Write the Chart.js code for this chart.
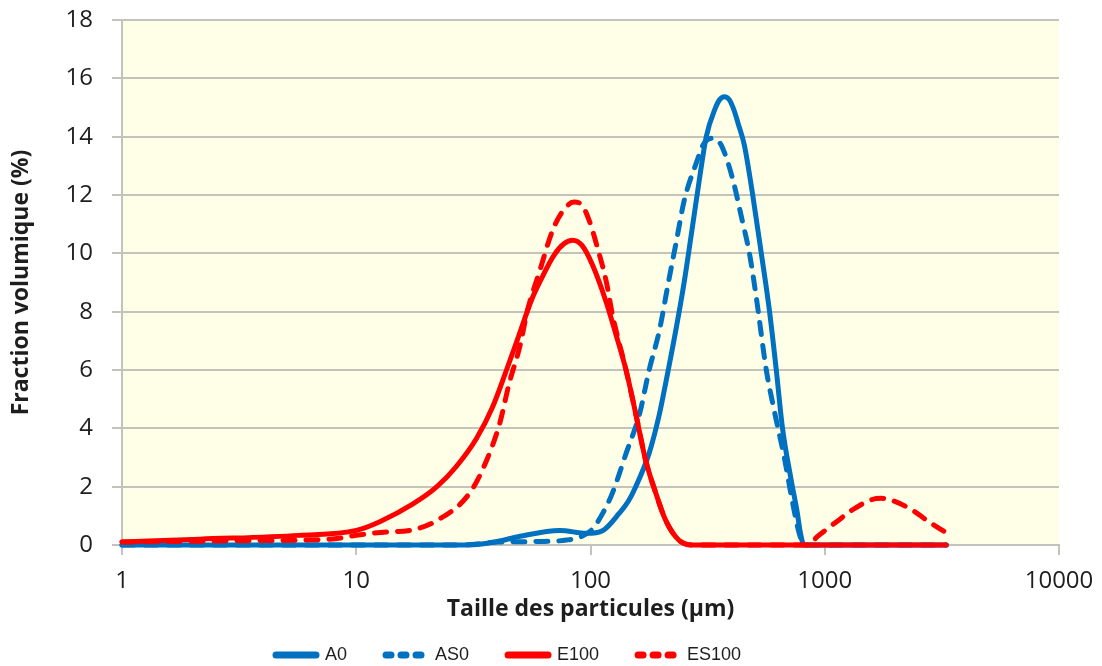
<!DOCTYPE html>
<html>
<head>
<meta charset="utf-8">
<title>Fraction volumique</title>
<script src="https://cdn.jsdelivr.net/npm/chart.js@4/dist/chart.umd.min.js"></script>
<style>
  html, body { margin: 0; padding: 0; background: #fff; }
  canvas { display: block; }
</style>
</head>
<body>
<canvas id="psdChart" width="1102" height="666"></canvas>
<script>
// tailles (µm) et fractions volumiques (%)
const a0Sizes = [1, 30, 40, 50, 74, 96, 113, 133, 145, 156, 178, 197, 210, 233, 251, 270, 290, 312, 340, 356, 373, 391, 408, 428, 454, 491, 536, 580, 621, 659, 720, 760, 790, 815, 3300];
const a0Values = [0, 0, 0.12, 0.3, 0.5, 0.4, 0.5, 1.1, 1.5, 2.0, 3.15, 4.5, 5.6, 7.5, 9.0, 10.7, 12.4, 14.0, 14.95, 15.27, 15.37, 15.27, 14.95, 14.42, 13.7, 12.07, 10.0, 8.06, 6.0, 4.05, 2.2, 1.2, 0.35, 0, 0];

const as0Sizes = [1, 28, 40, 60, 79, 92, 102, 113, 124, 142, 162, 178, 197, 215, 233, 251, 283, 304, 331, 344, 362, 403, 445, 477, 510, 563, 609, 672, 727, 778, 818, 3300];
const as0Values = [0, 0, 0.1, 0.12, 0.17, 0.3, 0.55, 1.1, 1.78, 3.15, 4.5, 6.0, 7.37, 9.0, 10.45, 11.8, 13.1, 13.75, 13.95, 13.9, 13.7, 12.6, 11.1, 10.0, 8.5, 6.0, 4.6, 3.0, 1.5, 0.4, 0, 0];

const e100Sizes = [1, 2.15, 5.7, 10, 12.6, 17.4, 22.1, 26.8, 32.6, 38.2, 43.8, 49.9, 56, 61, 70, 77, 84, 92, 102, 117, 128.6, 141.8, 156, 172, 190, 209, 238, 270, 3300];
const e100Values = [0.1, 0.2, 0.33, 0.5, 0.8, 1.4, 2.0, 2.7, 3.65, 4.73, 6.0, 7.27, 8.4, 9.05, 9.95, 10.33, 10.45, 10.27, 9.6, 8.3, 7.2, 6.0, 4.5, 2.9, 1.78, 0.86, 0.17, 0, 0];

const es100Sizes = [1, 3.5, 7.7, 10.4, 13.5, 16.9, 22.3, 30.5, 36, 41, 45, 49.9, 53.9, 60.7, 69, 77, 85, 92, 99, 107, 117, 124, 128.6, 141.8, 156, 172, 190, 209, 238, 270, 830, 947, 1150, 1310, 1594, 1740, 1884, 2362, 2711, 3300];
const es100Values = [0.1, 0.15, 0.2, 0.35, 0.45, 0.5, 0.86, 1.78, 2.9, 4.18, 5.55, 6.8, 8.06, 9.4, 10.8, 11.5, 11.76, 11.65, 11.1, 10.2, 9.0, 7.9, 7.35, 6.0, 4.5, 2.9, 1.78, 0.86, 0.17, 0, 0, 0.34, 0.86, 1.2, 1.56, 1.6, 1.56, 1.2, 0.86, 0.42];

const xTicks = [1, 10, 100, 1000, 10000];
const yMin = 0, yMax = 18, yStep = 2;

const BLUE = '#0070C0';
const RED = '#FF0000';
const DASH = [12, 11];
const LEGEND_DASH = [5, 10];

function toPoints(sizes, values) {
    return sizes.map((s, i) => ({ x: s, y: values[i] }));
}

function makeSeries(label, sizes, values, color, dashed, order) {
    return {
        label: label,
        data: toPoints(sizes, values),
        borderColor: color,
        backgroundColor: color,
        borderWidth: 5,
        borderDash: dashed ? DASH : [],
        borderCapStyle: 'round',
        borderJoinStyle: 'round',
        cubicInterpolationMode: 'monotone',
        pointRadius: 0,
        pointHoverRadius: 0,
        fill: false,
        clip: 8,
        order: order
    };
}

// fond jaune pâle de la zone de tracé
const plotBackground = {
    id: 'plotBackground',
    beforeDraw(chart) {
        const { ctx, chartArea: a } = chart;
        ctx.save();
        ctx.fillStyle = '#FFFFE8';
        ctx.fillRect(a.left, a.top, a.right - a.left, a.bottom - a.top);
        ctx.restore();
    }
};

// place la légende comme dans la figure (début vers x=276, centre à y=655)
const legendPlace = {
    id: 'legendPlace',
    afterLayout(chart) {
        const l = chart.legend;
        const pad = l.options.labels.padding;
        const start = (l.left + pad + l.right - l.lineWidths[0]) / 2;
        const dx = 276 - start;
        const itemH = l.options.labels.font.size;
        const dy = 655 - (l.top + pad + itemH / 2);
        l.left += dx;
        l.right += dx;
        l.top += dy;
        l.bottom = chart.height;
    }
};

// symboles de légende : trait épais, tirets pour les séries en pointillé
function legendLabels(chart) {
    const items = Chart.defaults.plugins.legend.labels.generateLabels(chart);
    return items.map(item => {
        const ds = chart.data.datasets[item.datasetIndex];
        item.strokeStyle = ds.borderColor;
        item.fillStyle = ds.borderColor;
        item.lineWidth = 7;
        item.lineCap = 'round';
        item.lineDash = ds.borderDash.length ? LEGEND_DASH : [];
        return item;
    });
}

const tickFont = 'Open Sans, Lato, sans-serif';
const textColor = '#1e1e1e';
const gridColor = '#c3c3bb';

new Chart(document.getElementById('psdChart').getContext('2d'), {
    type: 'line',
    data: {
        datasets: [
            makeSeries('A0', a0Sizes, a0Values, BLUE, false, 4),
            makeSeries('AS0', as0Sizes, as0Values, BLUE, true, 3),
            makeSeries('E100', e100Sizes, e100Values, RED, false, 2),
            makeSeries('ES100', es100Sizes, es100Values, RED, true, 1)
        ]
    },
    options: {
        responsive: false,
        animation: false,
        devicePixelRatio: 1,
        layout: { padding: { left: 0, right: 43, top: 20, bottom: 0 } },
        plugins: {
            tooltip: { enabled: false },
            legend: {
                position: 'bottom',
                maxHeight: 31,
                labels: {
                    usePointStyle: true,
                    pointStyle: 'line',
                    pointStyleWidth: 40,
                    padding: 39,
                    color: textColor,
                    font: { family: '"Liberation Sans", Arial, sans-serif', size: 18 },
                    generateLabels: legendLabels,
                    sort: (a, b) => a.datasetIndex - b.datasetIndex
                }
            }
        },
        scales: {
            x: {
                type: 'logarithmic',
                min: 1,
                max: 10000,
                afterBuildTicks: (scale) => { scale.ticks = xTicks.map(v => ({ value: v })); },
                afterFit: (scale) => {
                    scale.height = 90;
                    scale.paddingLeft = 0;
                    scale.paddingRight = 0;
                },
                ticks: {
                    color: textColor,
                    padding: 12,
                    maxRotation: 0,
                    font: { family: tickFont, size: 24 },
                    callback: (v) => String(v)
                },
                grid: { drawOnChartArea: false, drawTicks: true, tickLength: 10, color: gridColor, lineWidth: 2 },
                border: { color: gridColor, width: 2 },
                title: {
                    display: true,
                    text: 'Taille des particules (µm)',
                    color: textColor,
                    font: { family: tickFont, size: 23, weight: 'bold' },
                    padding: { top: 0, bottom: 12 }
                }
            },
            y: {
                min: yMin,
                max: yMax,
                afterFit: (scale) => {
                    scale.width = 122;
                    scale.paddingTop = 0;
                    scale.paddingBottom = 0;
                },
                ticks: {
                    stepSize: yStep,
                    color: textColor,
                    padding: 19,
                    font: { family: tickFont, size: 24 }
                },
                grid: { color: gridColor, lineWidth: 2, tickLength: 10 },
                border: { color: gridColor, width: 2 },
                title: {
                    display: true,
                    text: 'Fraction volumique (%)',
                    color: textColor,
                    font: { family: tickFont, size: 23, weight: 'bold' },
                    padding: { top: 8, bottom: 0 }
                }
            }
        }
    },
    plugins: [plotBackground, legendPlace]
});
</script>
</body>
</html>
